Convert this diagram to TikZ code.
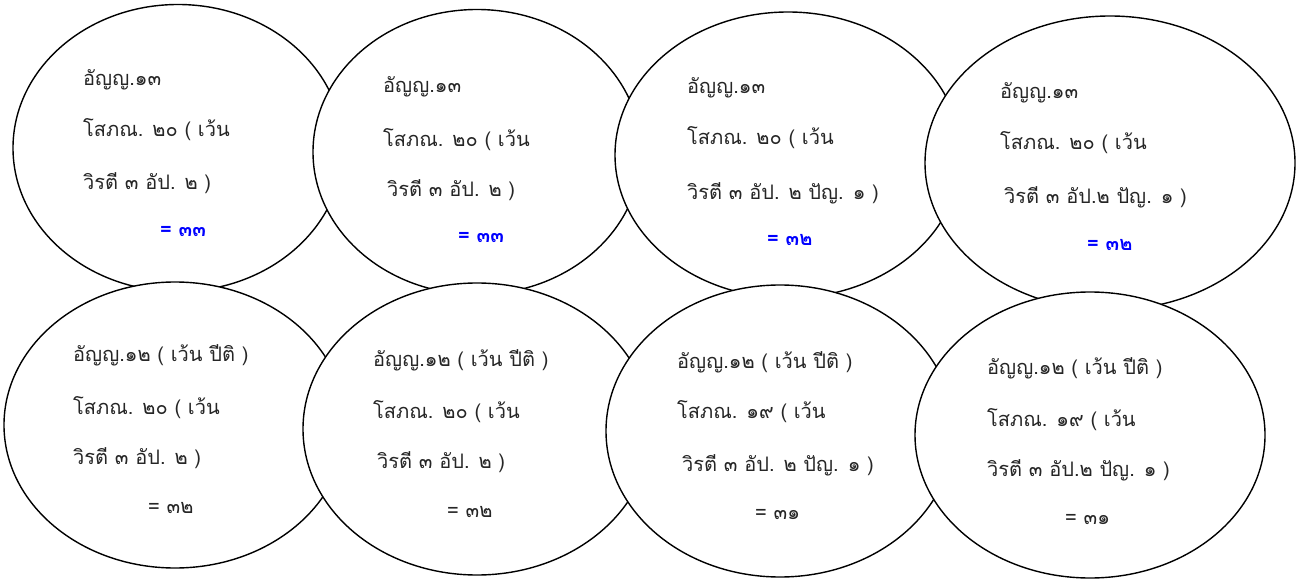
\documentclass[tikz,border=0pt]{standalone}
\usepackage{fontspec}
\usetikzlibrary{shapes.geometric}
\newfontfamily\thaifont[Script=Thai]{Loma}
\begin{document}
\begin{tikzpicture}[x=1pt,y=-1pt,
  oval/.style={ellipse,draw=black,line width=1.4pt,fill=white,inner sep=0pt},
  txt/.style={anchor=west,inner sep=0pt,font=\thaifont\fontsize{20}{24}\selectfont,text=black!85},
  res/.style={anchor=west,inner sep=0pt,font=\thaifont\fontsize{20}{24}\selectfont,text=black!85},
  resb/.style={anchor=west,inner sep=0pt,font=\thaifont\bfseries\fontsize{20}{24}\selectfont,text=blue}]
\useasboundingbox (0,0) rectangle (1298,580);
% top row
\node[oval,minimum width=330pt,minimum height=287pt] (e1) at (178,148) {};
\node[txt] (a1) at (83,80) {อัญญ.๑๓};
\node[txt] (b1) at (83,130) {โสภณ. ๒๐ ( เว้น};
\node[txt] (c1) at (83,183) {วิรตี ๓ อัป. ๒ )};
\node[resb] (d1) at (160,232) {= ๓๓};
\node[oval,minimum width=328pt,minimum height=285pt] (e2) at (477,152) {};
\node[txt] (a2) at (383,87) {อัญญ.๑๓};
\node[txt] (b2) at (383,140) {โสภณ. ๒๐ ( เว้น};
\node[txt] (c2) at (387,190) {วิรตี ๓ อัป. ๒ )};
\node[resb] (d2) at (458,238) {= ๓๓};
\node[oval,minimum width=346pt,minimum height=286pt] (e3) at (788,155) {};
\node[txt] (a3) at (687,88) {อัญญ.๑๓};
\node[txt] (b3) at (687,138) {โสภณ. ๒๐ ( เว้น};
\node[txt] (c3) at (687,193) {วิรตี ๓ อัป. ๒ ปัญ. ๑ )};
\node[resb] (d3) at (767,240) {= ๓๒};
\node[oval,minimum width=370pt,minimum height=294pt] (e4) at (1110,163) {};
\node[txt] (a4) at (1000,93) {อัญญ.๑๓};
\node[txt] (b4) at (1000,143) {โสภณ. ๒๐ ( เว้น};
\node[txt] (c4) at (1004,197) {วิรตี ๓ อัป.๒ ปัญ. ๑ )};
\node[resb] (d4) at (1087,245) {= ๓๒};
% bottom row
\node[oval,minimum width=342pt,minimum height=286pt] (e5) at (175,425) {};
\node[txt] (a5) at (73,355) {อัญญ.๑๒ ( เว้น ปีติ )};
\node[txt] (b5) at (73,408) {โสภณ. ๒๐ ( เว้น};
\node[txt] (c5) at (73,458) {วิรตี ๓ อัป. ๒ )};
\node[res] (d5) at (148,508) {= ๓๒};
\node[oval,minimum width=348pt,minimum height=292pt] (e6) at (477,429) {};
\node[txt] (a6) at (373,360) {อัญญ.๑๒ ( เว้น ปีติ )};
\node[txt] (b6) at (373,412) {โสภณ. ๒๐ ( เว้น};
\node[txt] (c6) at (377,462) {วิรตี ๓ อัป. ๒ )};
\node[res] (d6) at (447,512) {= ๓๒};
\node[oval,minimum width=348pt,minimum height=292pt] (e7) at (780,431) {};
\node[txt] (a7) at (677,362) {อัญญ.๑๒ ( เว้น ปีติ )};
\node[txt] (b7) at (677,412) {โสภณ. ๑๙ ( เว้น};
\node[txt] (c7) at (682,465) {วิรตี ๓ อัป. ๒ ปัญ. ๑ )};
\node[res] (d7) at (755,515) {= ๓๑};
\node[oval,minimum width=350pt,minimum height=286pt] (e8) at (1090,435) {};
\node[txt] (a8) at (987,368) {อัญญ.๑๒ ( เว้น ปีติ )};
\node[txt] (b8) at (987,420) {โสภณ. ๑๙ ( เว้น};
\node[txt] (c8) at (987,470) {วิรตี ๓ อัป.๒ ปัญ. ๑ )};
\node[res] (d8) at (1065,520) {= ๓๑};
\end{tikzpicture}
\end{document}
